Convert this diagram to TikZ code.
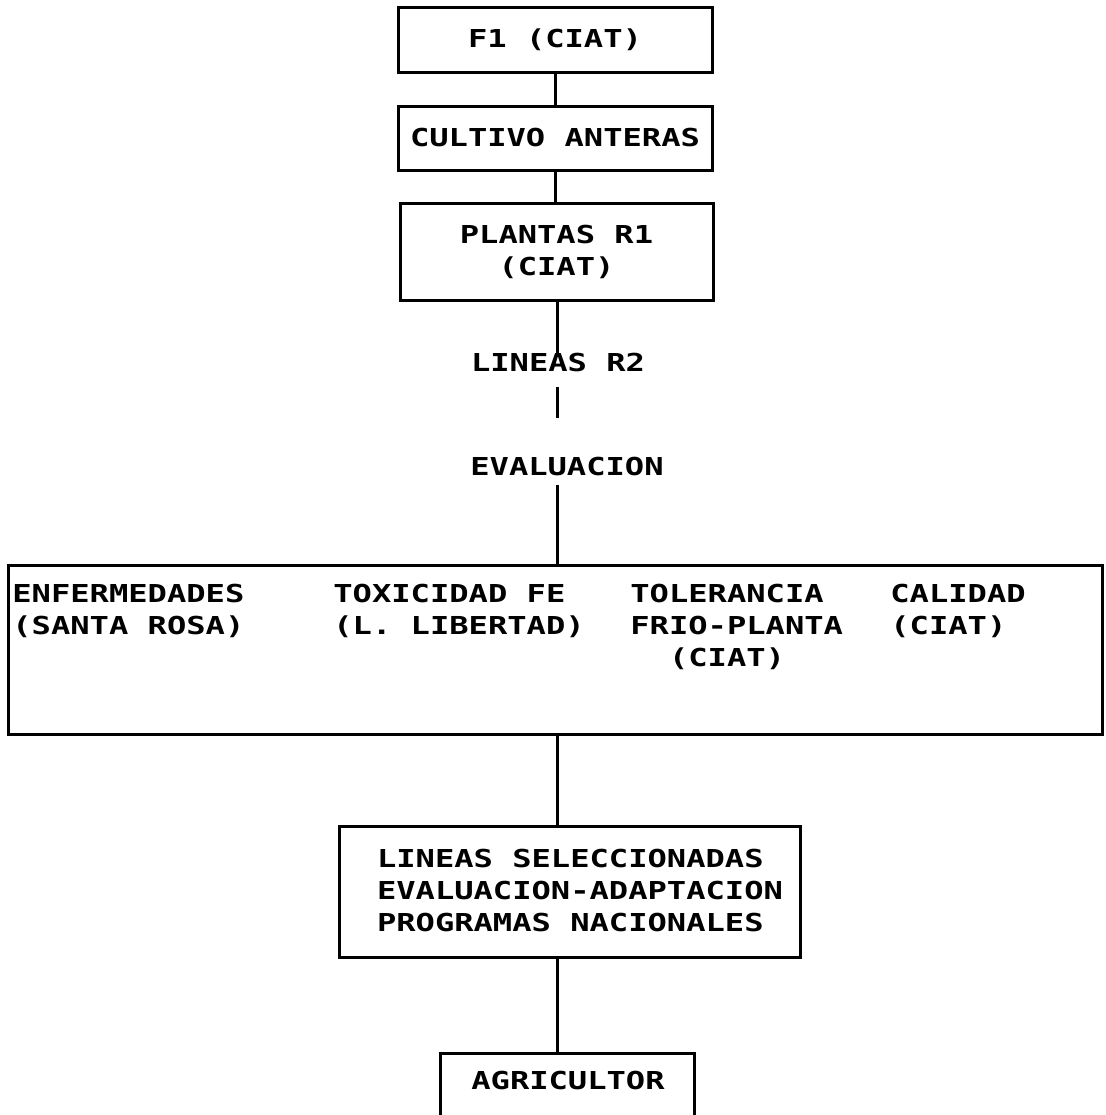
\documentclass[tikz,border=0pt]{standalone}
\usepackage{fontspec}
\newfontfamily\dotfont[FakeStretch=1.3]{DejaVu Sans Mono}
\usetikzlibrary{calc}
\begin{document}
\begin{tikzpicture}[x=0.5pt,y=-0.5pt,
  lbl/.style={inner sep=0pt, font=\dotfont\bfseries\fontsize{12.35pt}{16pt}\selectfont},
  box/.style={lbl, draw, line width=1.5pt},
  conn/.style={line width=1.5pt}]
\useasboundingbox[fill=white] (0,0) rectangle (1105,1115);
\node[box, minimum width=157pt, minimum height=32.5pt] (f1) at (555,39.5) {F1 (CIAT)};
\node[box, minimum width=157pt, minimum height=32pt] (cul) at (555,138) {CULTIVO ANTERAS};
\node[box, minimum width=156.5pt, minimum height=48.5pt, align=center] (pl) at (556.5,251.5) {PLANTAS R1\\(CIAT)};
\node[lbl] (lin) at (558,363) {LINEAS R2};
\coordinate (c1) at (557,387);
\coordinate (c2) at (557,418);
\node[lbl] (ev) at (567,467) {EVALUACION};
\coordinate (c3) at (557,485);
\node[box, minimum width=547pt, minimum height=84.5pt] (big) at (555,649.5) {};
\node[lbl, align=left, anchor=north west] (enf) at (12,584) {ENFERMEDADES\\(SANTA ROSA)};
\node[lbl, align=left, anchor=north west] (tox) at (333,584) {TOXICIDAD FE\\(L. LIBERTAD)};
\node[lbl, align=left, anchor=north west] (tol) at (630,584) {TOLERANCIA\\FRIO-PLANTA\\\phantom{XX}(CIAT)};
\node[lbl, align=left, anchor=north west] (cal) at (890,584) {CALIDAD\\(CIAT)};
\node[box, minimum width=230.5pt, minimum height=65.5pt] (sel) at (569.5,891.5) {};
\node[lbl, align=left] (selt) at (580,890) {LINEAS SELECCIONADAS\\EVALUACION-ADAPTACION\\PROGRAMAS NACIONALES};
\node[box, minimum width=127pt, minimum height=36pt] (agr) at (567,1089) {};
\node[lbl] (agrt) at (568,1080) {AGRICULTOR};
\draw[conn] (f1.south) -- (cul.north);
\draw[conn] (cul.south) -- (cul.south |- pl.north);
\draw[conn] (pl.south -| c1) -- ([yshift=-2pt]c1 |- lin.north);
\draw[conn] (c1) -- (c2);
\draw[conn] (c3) -- (c3 |- big.north);
\draw[conn] (big.south -| c3) -- (c3 |- sel.north);
\draw[conn] (sel.south -| c3) -- (c3 |- agr.north);
\end{tikzpicture}
\end{document}
